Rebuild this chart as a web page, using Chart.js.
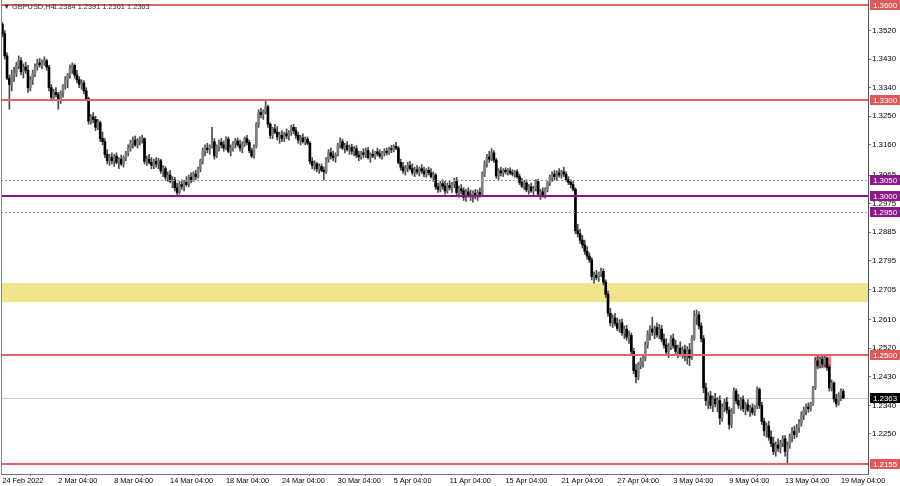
<!DOCTYPE html>
<html><head><meta charset="utf-8">
<script src="https://cdn.jsdelivr.net/npm/chart.js@4.4.1/dist/chart.umd.min.js"></script>
<style>html,body{margin:0;padding:0;background:#fff}#wrap{width:900px;height:486px}</style>
</head><body><div id="wrap"><canvas id="c" width="900" height="486"></canvas></div>
<script>
const symbolTitle = 'GBPUSD,H4';
const titleValues = '1.2384 1.2391 1.2361 1.2363';

const opens = [
1.3540,1.3510,1.3440,1.3370,1.3350,1.3380,
1.3385,1.3410,1.3425,1.3390,1.3405,1.3395,
1.3340,1.3365,1.3385,1.3405,1.3418,1.3412,
1.3420,1.3425,1.3405,1.3340,1.3310,1.3325,
1.3318,1.3300,1.3325,1.3345,1.3365,1.3380,
1.3400,1.3410,1.3380,1.3365,1.3350,1.3355,
1.3330,1.3305,1.3235,1.3248,1.3240,1.3215,
1.3230,1.3180,1.3170,1.3130,1.3110,1.3120,
1.3110,1.3125,1.3105,1.3115,1.3100,1.3120,
1.3135,1.3150,1.3165,1.3175,1.3160,1.3172,
1.3178,1.3180,1.3108,1.3115,1.3105,1.3095,
1.3108,1.3100,1.3110,1.3078,1.3085,1.3058,
1.3065,1.3045,1.3050,1.3025,1.3010,1.3035,
1.3030,1.3042,1.3035,1.3058,1.3050,1.3068,
1.3060,1.3085,1.3110,1.3140,1.3150,1.3145,
1.3155,1.3170,1.3125,1.3155,1.3168,1.3160,
1.3150,1.3178,1.3140,1.3150,1.3165,1.3172,
1.3160,1.3150,1.3162,1.3180,1.3168,1.3142,
1.3125,1.3155,1.3225,1.3262,1.3255,1.3265,
1.3280,1.3225,1.3190,1.3210,1.3200,1.3185,
1.3190,1.3180,1.3195,1.3188,1.3200,1.3215,
1.3205,1.3190,1.3175,1.3182,1.3170,1.3178,
1.3165,1.3108,1.3095,1.3100,1.3085,1.3092,
1.3080,1.3075,1.3115,1.3135,1.3125,1.3120,
1.3130,1.3160,1.3170,1.3150,1.3158,1.3145,
1.3152,1.3140,1.3148,1.3128,1.3122,1.3135,
1.3130,1.3142,1.3120,1.3130,1.3125,1.3138,
1.3132,1.3125,1.3135,1.3140,1.3135,1.3148,
1.3145,1.3155,1.3150,1.3105,1.3090,1.3078,
1.3088,1.3095,1.3085,1.3072,1.3082,1.3075,
1.3085,1.3078,1.3068,1.3080,1.3072,1.3060,
1.3065,1.3028,1.3020,1.3038,1.3030,1.3015,
1.3032,1.3025,1.3038,1.3045,1.3010,1.3022,
1.3015,1.2995,1.3012,1.3002,1.2998,1.3008,
1.3000,1.3010,1.3005,1.3070,1.3100,1.3122,
1.3115,1.3135,1.3112,1.3062,1.3078,1.3072,
1.3080,1.3075,1.3078,1.3072,1.3068,1.3075,
1.3060,1.3042,1.3030,1.3040,1.3018,1.3028,
1.3015,1.3022,1.3045,1.3005,1.3012,1.3000,
1.3020,1.3040,1.3058,1.3068,1.3060,1.3072,
1.3065,1.3075,1.3068,1.3050,1.3042,1.3035,
1.3020,1.2890,1.2880,1.2860,1.2845,1.2825,
1.2810,1.2798,1.2745,1.2750,1.2742,1.2755,
1.2762,1.2728,1.2690,1.2630,1.2600,1.2615,
1.2598,1.2582,1.2600,1.2568,1.2580,1.2555,
1.2560,1.2510,1.2450,1.2430,1.2468,1.2478,
1.2490,1.2530,1.2565,1.2580,1.2570,1.2585,
1.2562,1.2580,1.2548,1.2530,1.2508,1.2525,
1.2550,1.2528,1.2510,1.2520,1.2502,1.2515,
1.2495,1.2515,1.2490,1.2552,1.2620,1.2625,
1.2590,1.2550,1.2395,1.2355,1.2370,1.2340,
1.2360,1.2345,1.2355,1.2300,1.2335,1.2350,
1.2325,1.2280,1.2320,1.2385,1.2355,1.2340,
1.2358,1.2330,1.2342,1.2325,1.2332,1.2318,
1.2335,1.2390,1.2340,1.2290,1.2260,1.2275,
1.2240,1.2220,1.2195,1.2215,1.2205,1.2222,
1.2235,1.2195,1.2215,1.2240,1.2258,1.2248,
1.2270,1.2285,1.2310,1.2325,1.2335,1.2330,
1.2345,1.2395,1.2480,1.2465,1.2485,1.2470,
1.2488,1.2460,1.2395,1.2410,1.2360,1.2345,
1.2372,1.2384];

const highs = [
1.3545,1.3520,1.3450,1.3380,1.3395,1.3405,
1.3420,1.3440,1.3435,1.3415,1.3420,1.3410,
1.3375,1.3395,1.3415,1.3430,1.3432,1.3428,
1.3437,1.3430,1.3410,1.3350,1.3335,1.3340,
1.3325,1.3330,1.3350,1.3375,1.3385,1.3412,
1.3418,1.3415,1.3395,1.3375,1.3365,1.3362,
1.3340,1.3310,1.3255,1.3262,1.3250,1.3240,
1.3235,1.3200,1.3180,1.3145,1.3130,1.3135,
1.3130,1.3135,1.3120,1.3128,1.3125,1.3140,
1.3160,1.3175,1.3185,1.3188,1.3180,1.3185,
1.3190,1.3182,1.3125,1.3130,1.3120,1.3115,
1.3120,1.3118,1.3115,1.3095,1.3092,1.3075,
1.3080,1.3060,1.3058,1.3040,1.3045,1.3050,
1.3048,1.3060,1.3065,1.3072,1.3075,1.3080,
1.3090,1.3115,1.3150,1.3160,1.3165,1.3160,
1.3215,1.3180,1.3160,1.3175,1.3180,1.3172,
1.3185,1.3185,1.3160,1.3170,1.3180,1.3182,
1.3175,1.3170,1.3185,1.3190,1.3175,1.3150,
1.3160,1.3230,1.3270,1.3275,1.3270,1.3298,
1.3285,1.3230,1.3215,1.3225,1.3218,1.3200,
1.3205,1.3200,1.3210,1.3205,1.3222,1.3225,
1.3215,1.3200,1.3190,1.3195,1.3185,1.3185,
1.3170,1.3120,1.3110,1.3105,1.3100,1.3100,
1.3090,1.3120,1.3145,1.3150,1.3140,1.3135,
1.3165,1.3182,1.3178,1.3165,1.3170,1.3160,
1.3162,1.3155,1.3158,1.3140,1.3140,1.3148,
1.3150,1.3152,1.3135,1.3145,1.3140,1.3150,
1.3145,1.3140,1.3148,1.3150,1.3152,1.3158,
1.3160,1.3168,1.3155,1.3115,1.3105,1.3095,
1.3105,1.3108,1.3100,1.3090,1.3095,1.3090,
1.3098,1.3090,1.3085,1.3090,1.3085,1.3075,
1.3070,1.3040,1.3045,1.3050,1.3045,1.3040,
1.3048,1.3042,1.3055,1.3058,1.3030,1.3035,
1.3025,1.3020,1.3025,1.3018,1.3015,1.3020,
1.3018,1.3025,1.3075,1.3110,1.3130,1.3140,
1.3148,1.3142,1.3118,1.3085,1.3090,1.3085,
1.3088,1.3085,1.3088,1.3082,1.3080,1.3082,
1.3068,1.3055,1.3048,1.3050,1.3035,1.3040,
1.3030,1.3050,1.3052,1.3020,1.3025,1.3025,
1.3045,1.3065,1.3075,1.3080,1.3078,1.3085,
1.3080,1.3090,1.3075,1.3060,1.3050,1.3045,
1.3025,1.2910,1.2895,1.2875,1.2860,1.2840,
1.2820,1.2805,1.2760,1.2765,1.2760,1.2772,
1.2770,1.2735,1.2700,1.2645,1.2625,1.2630,
1.2615,1.2610,1.2612,1.2590,1.2592,1.2575,
1.2568,1.2520,1.2470,1.2475,1.2490,1.2498,
1.2540,1.2575,1.2590,1.2618,1.2590,1.2600,
1.2595,1.2592,1.2565,1.2550,1.2535,1.2560,
1.2565,1.2545,1.2530,1.2540,1.2525,1.2530,
1.2525,1.2535,1.2560,1.2638,1.2640,1.2635,
1.2600,1.2560,1.2410,1.2380,1.2385,1.2370,
1.2378,1.2365,1.2370,1.2345,1.2360,1.2365,
1.2335,1.2330,1.2395,1.2392,1.2375,1.2365,
1.2370,1.2350,1.2358,1.2340,1.2345,1.2340,
1.2398,1.2395,1.2350,1.2300,1.2285,1.2290,
1.2260,1.2240,1.2225,1.2235,1.2230,1.2245,
1.2245,1.2225,1.2250,1.2270,1.2275,1.2280,
1.2295,1.2320,1.2335,1.2345,1.2348,1.2350,
1.2400,1.2490,1.2498,1.2492,1.2495,1.2496,
1.2492,1.2468,1.2420,1.2415,1.2375,1.2380,
1.2392,1.2391];

const lows = [
1.3500,1.3430,1.3365,1.3272,1.3330,1.3360,
1.3375,1.3400,1.3380,1.3370,1.3385,1.3325,
1.3330,1.3350,1.3375,1.3395,1.3405,1.3400,
1.3410,1.3395,1.3330,1.3300,1.3305,1.3310,
1.3272,1.3290,1.3310,1.3335,1.3340,1.3370,
1.3385,1.3370,1.3355,1.3340,1.3335,1.3320,
1.3300,1.3225,1.3225,1.3230,1.3205,1.3208,
1.3170,1.3160,1.3120,1.3100,1.3095,1.3100,
1.3092,1.3100,1.3085,1.3095,1.3090,1.3110,
1.3125,1.3140,1.3150,1.3155,1.3150,1.3160,
1.3165,1.3100,1.3095,1.3100,1.3085,1.3085,
1.3090,1.3085,1.3070,1.3060,1.3050,1.3045,
1.3040,1.3025,1.3015,1.3000,1.3005,1.3020,
1.3015,1.3030,1.3028,1.3040,1.3045,1.3050,
1.3055,1.3075,1.3100,1.3125,1.3135,1.3130,
1.3150,1.3115,1.3120,1.3140,1.3150,1.3140,
1.3145,1.3135,1.3125,1.3140,1.3150,1.3155,
1.3140,1.3135,1.3155,1.3160,1.3135,1.3120,
1.3118,1.3150,1.3215,1.3245,1.3240,1.3258,
1.3215,1.3180,1.3180,1.3195,1.3175,1.3165,
1.3170,1.3170,1.3180,1.3175,1.3190,1.3195,
1.3180,1.3165,1.3160,1.3165,1.3160,1.3160,
1.3100,1.3085,1.3080,1.3075,1.3070,1.3075,
1.3050,1.3070,1.3105,1.3115,1.3110,1.3105,
1.3125,1.3150,1.3145,1.3135,1.3140,1.3130,
1.3130,1.3125,1.3120,1.3110,1.3115,1.3120,
1.3120,1.3115,1.3105,1.3120,1.3115,1.3125,
1.3118,1.3115,1.3125,1.3128,1.3130,1.3135,
1.3138,1.3145,1.3100,1.3080,1.3070,1.3065,
1.3075,1.3080,1.3065,1.3060,1.3068,1.3062,
1.3070,1.3060,1.3058,1.3065,1.3055,1.3045,
1.3020,1.3010,1.3012,1.3020,1.3005,1.3008,
1.3018,1.3010,1.3025,1.3000,1.2995,1.3005,
1.2985,1.2982,1.2995,1.2985,1.2980,1.2990,
1.2985,1.2995,1.3000,1.3060,1.3090,1.3105,
1.3110,1.3105,1.3055,1.3050,1.3062,1.3060,
1.3068,1.3065,1.3066,1.3062,1.3058,1.3055,
1.3035,1.3025,1.3020,1.3012,1.3005,1.3010,
1.3000,1.3015,1.3000,1.2988,1.2995,1.2992,
1.3012,1.3032,1.3045,1.3050,1.3048,1.3058,
1.3055,1.3060,1.3045,1.3035,1.3025,1.3015,
1.2880,1.2870,1.2850,1.2835,1.2815,1.2800,
1.2790,1.2735,1.2725,1.2735,1.2730,1.2745,
1.2720,1.2680,1.2620,1.2590,1.2585,1.2590,
1.2575,1.2570,1.2560,1.2550,1.2545,1.2535,
1.2500,1.2440,1.2411,1.2420,1.2455,1.2460,
1.2480,1.2520,1.2545,1.2560,1.2550,1.2555,
1.2550,1.2540,1.2520,1.2500,1.2490,1.2515,
1.2520,1.2500,1.2490,1.2495,1.2488,1.2480,
1.2470,1.2465,1.2485,1.2545,1.2595,1.2580,
1.2540,1.2380,1.2340,1.2330,1.2330,1.2320,
1.2335,1.2320,1.2280,1.2290,1.2320,1.2315,
1.2265,1.2270,1.2315,1.2345,1.2330,1.2325,
1.2320,1.2310,1.2320,1.2305,1.2310,1.2308,
1.2330,1.2330,1.2280,1.2245,1.2240,1.2230,
1.2210,1.2185,1.2180,1.2195,1.2190,1.2210,
1.2180,1.2156,1.2205,1.2225,1.2235,1.2240,
1.2255,1.2275,1.2295,1.2310,1.2318,1.2322,
1.2340,1.2390,1.2455,1.2458,1.2460,1.2462,
1.2450,1.2385,1.2385,1.2350,1.2335,1.2340,
1.2355,1.2361];

const closes = [
1.3510,1.3440,1.3370,1.3350,1.3380,1.3385,
1.3410,1.3425,1.3390,1.3405,1.3395,1.3340,
1.3365,1.3385,1.3405,1.3418,1.3412,1.3420,
1.3425,1.3405,1.3340,1.3310,1.3325,1.3318,
1.3300,1.3325,1.3345,1.3365,1.3380,1.3400,
1.3410,1.3380,1.3365,1.3350,1.3355,1.3330,
1.3305,1.3235,1.3248,1.3240,1.3215,1.3230,
1.3180,1.3170,1.3130,1.3110,1.3120,1.3110,
1.3125,1.3105,1.3115,1.3100,1.3120,1.3135,
1.3150,1.3165,1.3175,1.3160,1.3172,1.3178,
1.3180,1.3108,1.3115,1.3105,1.3095,1.3108,
1.3100,1.3110,1.3078,1.3085,1.3058,1.3065,
1.3045,1.3050,1.3025,1.3010,1.3035,1.3030,
1.3042,1.3035,1.3058,1.3050,1.3068,1.3060,
1.3085,1.3110,1.3140,1.3150,1.3145,1.3155,
1.3170,1.3125,1.3155,1.3168,1.3160,1.3150,
1.3178,1.3140,1.3150,1.3165,1.3172,1.3160,
1.3150,1.3162,1.3180,1.3168,1.3142,1.3125,
1.3155,1.3225,1.3262,1.3255,1.3265,1.3280,
1.3225,1.3190,1.3210,1.3200,1.3185,1.3190,
1.3180,1.3195,1.3188,1.3200,1.3215,1.3205,
1.3190,1.3175,1.3182,1.3170,1.3178,1.3165,
1.3108,1.3095,1.3100,1.3085,1.3092,1.3080,
1.3075,1.3115,1.3135,1.3125,1.3120,1.3130,
1.3160,1.3170,1.3150,1.3158,1.3145,1.3152,
1.3140,1.3148,1.3128,1.3122,1.3135,1.3130,
1.3142,1.3120,1.3130,1.3125,1.3138,1.3132,
1.3125,1.3135,1.3140,1.3135,1.3148,1.3145,
1.3155,1.3150,1.3105,1.3090,1.3078,1.3088,
1.3095,1.3085,1.3072,1.3082,1.3075,1.3085,
1.3078,1.3068,1.3080,1.3072,1.3060,1.3065,
1.3028,1.3020,1.3038,1.3030,1.3015,1.3032,
1.3025,1.3038,1.3045,1.3010,1.3022,1.3015,
1.2995,1.3012,1.3002,1.2998,1.3008,1.3000,
1.3010,1.3005,1.3070,1.3100,1.3122,1.3115,
1.3135,1.3112,1.3062,1.3078,1.3072,1.3080,
1.3075,1.3078,1.3072,1.3068,1.3075,1.3060,
1.3042,1.3030,1.3040,1.3018,1.3028,1.3015,
1.3022,1.3045,1.3005,1.3012,1.3000,1.3020,
1.3040,1.3058,1.3068,1.3060,1.3072,1.3065,
1.3075,1.3068,1.3050,1.3042,1.3035,1.3020,
1.2890,1.2880,1.2860,1.2845,1.2825,1.2810,
1.2798,1.2745,1.2750,1.2742,1.2755,1.2762,
1.2728,1.2690,1.2630,1.2600,1.2615,1.2598,
1.2582,1.2600,1.2568,1.2580,1.2555,1.2560,
1.2510,1.2450,1.2430,1.2468,1.2478,1.2490,
1.2530,1.2565,1.2580,1.2570,1.2585,1.2562,
1.2580,1.2548,1.2530,1.2508,1.2525,1.2550,
1.2528,1.2510,1.2520,1.2502,1.2515,1.2495,
1.2515,1.2490,1.2552,1.2620,1.2625,1.2590,
1.2550,1.2395,1.2355,1.2370,1.2340,1.2360,
1.2345,1.2355,1.2300,1.2335,1.2350,1.2325,
1.2280,1.2320,1.2385,1.2355,1.2340,1.2358,
1.2330,1.2342,1.2325,1.2332,1.2318,1.2335,
1.2390,1.2340,1.2290,1.2260,1.2275,1.2240,
1.2220,1.2195,1.2215,1.2205,1.2222,1.2235,
1.2195,1.2215,1.2240,1.2258,1.2248,1.2270,
1.2285,1.2310,1.2325,1.2335,1.2330,1.2345,
1.2395,1.2480,1.2465,1.2485,1.2470,1.2488,
1.2460,1.2395,1.2410,1.2360,1.2345,1.2372,
1.2385,1.2363];

const xTickIdx = [0,24,48,72,96,120,144,168,192,216,240,264,288,312,336,360];
const xTickLabels = ['24 Feb 2022','2 Mar 04:00','8 Mar 04:00','14 Mar 04:00','18 Mar 04:00','24 Mar 04:00','30 Mar 04:00','5 Apr 04:00','11 Apr 04:00','15 Apr 04:00','21 Apr 04:00','27 Apr 04:00','3 May 04:00','9 May 04:00','13 May 04:00','19 May 04:00'];
const yTicks = [1.3520,1.3430,1.3340,1.3250,1.3160,1.3065,1.2975,1.2885,1.2795,1.2705,1.2610,1.2520,1.2430,1.2340,1.2250];

const redLevels = [1.3600,1.3300,1.2500,1.2155];
const purpleLevels = [1.3000];
const dottedLevels = [1.3050,1.2950];
const zoneLevels = [1.2665,1.2725];
const boxBars = [348.5,355.8];
const boxPrices = [1.2457,1.2494];
const lastPrice = 1.2363;

const FONT = 'Liberation Sans';
const RED = '#e06464', PURPLE = '#851485', DOT = '#c07ac0';

const idx = closes.map((_, i) => i);
const wickData = idx.map(i => ({x: i, y: [lows[i], highs[i]]}));
const bodyData = idx.map(i => ({x: i, y: [opens[i], closes[i]]}));
const bodyColors = idx.map(i => closes[i] >= opens[i] ? '#808080' : '#000000');

const levelsPlugin = {
  id: 'levels',
  beforeDatasetsDraw(chart) {
    const {ctx, chartArea: a, scales: {x, y}} = chart;
    ctx.save();
    ctx.beginPath(); ctx.rect(a.left, a.top, a.right - a.left, a.bottom - a.top); ctx.clip();
    const z1 = y.getPixelForValue(zoneLevels[1]), z0 = y.getPixelForValue(zoneLevels[0]);
    ctx.fillStyle = '#f0e58c';
    ctx.fillRect(a.left, z1, a.right - a.left, z0 - z1);
    const bx0 = x.getPixelForValue(boxBars[0]), bx1 = x.getPixelForValue(boxBars[1]);
    const by1 = y.getPixelForValue(boxPrices[1]), by0 = y.getPixelForValue(boxPrices[0]);
    ctx.fillStyle = '#f28080';
    ctx.fillRect(bx0, by1, bx1 - bx0, by0 - by1);
    const lp = Math.round(y.getPixelForValue(lastPrice)) + 0.5;
    ctx.strokeStyle = '#c8c8c8'; ctx.lineWidth = 1;
    ctx.beginPath(); ctx.moveTo(a.left, lp); ctx.lineTo(a.right, lp); ctx.stroke();
    ctx.restore();
  },
  afterDatasetsDraw(chart) {
    const {ctx, chartArea: a, scales: {y}} = chart;
    ctx.save();
    ctx.beginPath(); ctx.rect(a.left, a.top - 2, a.right - a.left, a.bottom - a.top + 2); ctx.clip();
    ctx.lineWidth = 1; ctx.strokeStyle = DOT; ctx.setLineDash([2, 2]);
    dottedLevels.forEach(v => {
      const p = Math.round(y.getPixelForValue(v)) + 0.5;
      ctx.beginPath(); ctx.moveTo(a.left, p); ctx.lineTo(a.right, p); ctx.stroke();
    });
    ctx.setLineDash([]);
    ctx.lineWidth = 2;
    ctx.strokeStyle = RED;
    redLevels.forEach(v => {
      const p = Math.round(y.getPixelForValue(v));
      ctx.beginPath(); ctx.moveTo(a.left, p); ctx.lineTo(a.right, p); ctx.stroke();
    });
    ctx.strokeStyle = PURPLE;
    purpleLevels.forEach(v => {
      const p = Math.round(y.getPixelForValue(v));
      ctx.beginPath(); ctx.moveTo(a.left, p); ctx.lineTo(a.right, p); ctx.stroke();
    });
    ctx.restore();
  },
  afterDraw(chart) {
    const {ctx, chartArea: a, scales: {y}} = chart;
    ctx.save();
    ctx.strokeStyle = '#888'; ctx.lineWidth = 1;
    ctx.beginPath(); ctx.moveTo(a.left + 0.5, 0); ctx.lineTo(a.left + 0.5, a.bottom); ctx.stroke();
    const tag = (v, bg) => {
      const p = y.getPixelForValue(v);
      ctx.fillStyle = bg;
      ctx.fillRect(a.right + 2, Math.round(p) - 5, 900 - a.right - 2, 10);
      ctx.fillStyle = '#fff';
      ctx.font = '7.9px "' + FONT + '"';
      ctx.textBaseline = 'middle'; ctx.textAlign = 'left';
      ctx.fillText(v.toFixed(4), a.right + 5, Math.round(p) + 0.5);
    };
    redLevels.forEach(v => tag(v, '#dc5a5a'));
    dottedLevels.forEach(v => tag(v, '#8a1a8a'));
    purpleLevels.forEach(v => tag(v, '#8a1a8a'));
    tag(lastPrice, '#000');
    ctx.fillStyle = '#333';
    ctx.font = '7.4px "' + FONT + '"';
    ctx.textBaseline = 'middle'; ctx.textAlign = 'left';
    ctx.fillText('\u25BC', 3, 7);
    ctx.fillText(symbolTitle, 12, 7);
    ctx.fillText(titleValues, 53, 7);
    ctx.restore();
  }
};

new Chart(document.getElementById('c'), {
  type: 'bar',
  data: {
    datasets: [
      {label: 'wick', data: wickData, backgroundColor: '#4a4a4a', barThickness: 1, grouped: false, order: 2, borderWidth: 0},
      {label: 'body', data: bodyData, backgroundColor: bodyColors, barThickness: 2, grouped: false, order: 1, borderWidth: 0}
    ]
  },
  options: {
    responsive: false,
    animation: false,
    events: [],
    layout: {padding: {left: 1, top: 0, right: 0, bottom: 0}},
    plugins: {legend: {display: false}, tooltip: {enabled: false}, title: {display: false}},
    scales: {
      x: {
        type: 'linear', position: 'bottom', min: -0.6, max: 371.6, offset: false,
        afterBuildTicks: s => { s.ticks = xTickIdx.map(v => ({value: v})); },
        afterFit: s => { s.height = 12; s.paddingLeft = 0; s.paddingRight = 0; },
        ticks: {
          autoSkip: false, maxRotation: 0, minRotation: 0, align: 'start', padding: 1,
          color: '#000', font: {family: FONT, size: 7.3},
          callback: v => { const k = xTickIdx.indexOf(v); return k >= 0 ? xTickLabels[k] : ''; }
        },
        grid: {drawOnChartArea: false, drawTicks: true, tickLength: 2, color: '#777'},
        border: {display: true, color: '#777'}
      },
      y: {
        type: 'linear', position: 'right', min: 1.2124, max: 1.3616,
        afterBuildTicks: s => { s.ticks = yTicks.map(v => ({value: v})); },
        afterFit: s => { s.width = 32; s.paddingTop = 0; s.paddingBottom = 0; },
        ticks: {
          padding: 1, color: '#000', font: {family: FONT, size: 7.9},
          callback: v => Number(v).toFixed(4)
        },
        grid: {drawOnChartArea: false, drawTicks: true, tickLength: 3, color: '#777'},
        border: {display: true, color: '#555'}
      }
    }
  },
  plugins: [levelsPlugin]
});
</script>
</body></html>
